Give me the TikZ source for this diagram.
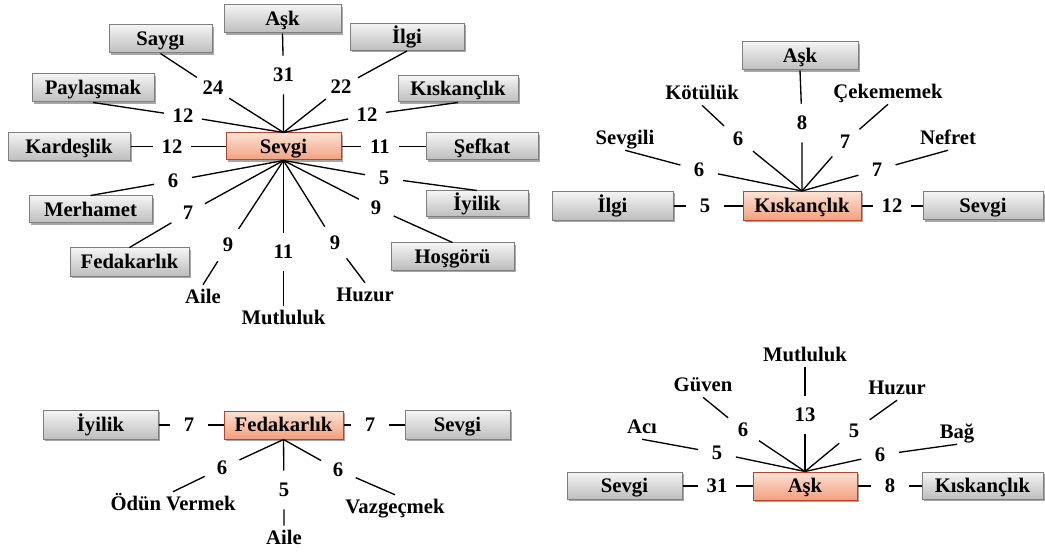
\documentclass[tikz,border=0pt]{standalone}
\usepackage{fontspec}
\setmainfont{Liberation Serif}
\usetikzlibrary{shadows}
\definecolor{gborder}{HTML}{7F7F7F}
\definecolor{gtop}{HTML}{F4F4F4}
\definecolor{gbot}{HTML}{BDBDBD}
\definecolor{sborder}{HTML}{B5452A}
\definecolor{salmontop}{HTML}{FCE2D4}
\definecolor{salmonbot}{HTML}{F2A07E}
\begin{document}
\begin{tikzpicture}[x=0.75pt,y=-0.75pt,
  font=\fontsize{15.5}{18}\selectfont\bfseries,
  shade/.style={drop shadow={shadow xshift=1.2pt, shadow yshift=-1.2pt, opacity=0.35, fill=black}},
  gbox/.style={draw=gborder, line width=0.75pt, top color=gtop, bottom color=gbot, inner sep=0pt, text height=10.5pt, text depth=0.5pt, shade},
  sbox/.style={draw=sborder, line width=0.75pt, top color=salmontop, bottom color=salmonbot, inner sep=0pt, text height=10.5pt, text depth=0.5pt, shade},
  sz/.style 2 args={minimum width={#1*0.75pt}, minimum height={#2*0.75pt}},
  num/.style={circle, minimum size=28.5pt, inner sep=0pt},
  lab/.style={inner sep=4pt, text height=10pt, text depth=0pt},
  conn/.style={line width=1pt, draw=black}]
\fill[white] (0,0) rectangle (1045,552);
\useasboundingbox (0,0) rectangle (1045,552);

% ---------------- Top-left cluster: Sevgi ----------------
\node[sbox, sz={115}{27}] (s1) at (283.5,146.5) {Sevgi};
\node[gbox, sz={117}{28}] (ask1) at (282.5,19) {Aşk};
\node[gbox, sz={103}{28}] (saygi) at (160.5,39) {Saygı};
\node[gbox, sz={114}{27}] (ilgi1) at (407,37) {İlgi};
\node[gbox, sz={122}{28}] (payl) at (93,88) {Paylaşmak};
\node[gbox, sz={120}{26}] (kisk1) at (458,89) {Kıskançlık};
\node[gbox, sz={122}{28}] (kard) at (69,146.5) {Kardeşlik};
\node[gbox, sz={112}{27}] (sefkat) at (482,146.5) {Şefkat};
\node[gbox, sz={123}{27}] (merh) at (90.5,209.5) {Merhamet};
\node[gbox, sz={102}{26}] (iyi1) at (477,204) {İyilik};
\node[gbox, sz={119}{28}] (fed1) at (129.5,262) {Fedakarlık};
\node[gbox, sz={123}{27}] (hos) at (452.5,256.5) {Hoşgörü};
\node[lab] (aile1) at (203,297) {Aile};
\node[lab] (mut1) at (283.5,318) {Mutluluk};
\node[lab] (huz1) at (365,295) {Huzur};

\node[num] (t31) at (283.5,75) {31};
\node[num] (t24) at (213,88) {24};
\node[num] (t22) at (341,87) {22};
\node[num] (t12p) at (183,116) {12};
\node[num] (t12k) at (367,115) {12};
\node[num] (t12d) at (172,146.5) {12};
\node[num] (t11s) at (380,146.5) {11};
\node[num] (t6m) at (173,181) {6};
\node[num] (t5i) at (384,178) {5};
\node[num] (t7f) at (188,213) {7};
\node[num] (t9h) at (376,208) {9};
\node[num] (t9a) at (228,245) {9};
\node[num] (t11m) at (283.5,252) {11};
\node[num] (t9z) at (335,243) {9};

\draw[conn] (ask1.south) -- (t31) -- (s1.north);
\draw[conn] (saygi.south) -- (t24) -- (s1.north);
\draw[conn] (ilgi1.south) -- (t22) -- (s1.north);
\draw[conn] (payl.south) -- (t12p) -- (s1.north);
\draw[conn] (kisk1.south) -- (t12k) -- (s1.north);
\draw[conn] (kard.east) -- (t12d) -- (s1.west);
\draw[conn] (s1.east) -- (t11s) -- (sefkat.west);
\draw[conn] (s1.south) -- (t6m) -- (merh.north);
\draw[conn] (s1.south) -- (t7f) -- (fed1.north);
\draw[conn] (s1.south) -- (t9a) -- (aile1.north);
\draw[conn] (s1.south) -- (t11m) -- (mut1.north);
\draw[conn] (s1.south) -- (t9z) -- (huz1.north);
\draw[conn] (s1.south) -- (t9h) -- (hos.north);
\draw[conn] (s1.south) -- (t5i) -- (iyi1.north);

% ---------------- Top-right cluster: Kıskançlık ----------------
\node[sbox, sz={118}{29}] (k2) at (802,206) {Kıskançlık};
\node[gbox, sz={116}{28}] (ask2) at (800,56) {Aşk};
\node[gbox, sz={121}{29}] (ilgi2) at (612.5,206) {İlgi};
\node[gbox, sz={120}{28}] (sev2) at (983,206) {Sevgi};
\node[lab] (sevgili) at (625,138) {Sevgili};
\node[lab] (kotu) at (702,93) {Kötülük};
\node[lab] (cekem) at (888,92) {Çekememek};
\node[lab] (nefret) at (948,138) {Nefret};

\node[num] (r8) at (802,123) {8};
\node[num] (r6s) at (699,170) {6};
\node[num] (r6k) at (738,139) {6};
\node[num] (r7c) at (845,142) {7};
\node[num] (r7n) at (877,170) {7};
\node[num] (r5) at (705,206) {5};
\node[num] (r12) at (892,206) {12};

\draw[conn] (ask2.south) -- (r8) -- (k2.north);
\draw[conn] (sevgili.south) -- (r6s) -- (k2.north);
\draw[conn] (kotu.south) -- (r6k) -- (k2.north);
\draw[conn] (cekem.south) -- (r7c) -- (k2.north);
\draw[conn] (nefret.south) -- (r7n) -- (k2.north);
\draw[conn] (ilgi2.east) -- (r5) -- (k2.west);
\draw[conn] (k2.east) -- (r12) -- (sev2.west);

% ---------------- Bottom-left cluster: Fedakarlık ----------------
\node[sbox, sz={119}{28}] (fed2) at (283.5,425) {Fedakarlık};
\node[gbox, sz={115}{29}] (iyi2) at (100.5,425) {İyilik};
\node[gbox, sz={105}{29}] (sev3) at (457.5,425) {Sevgi};
\node[lab] (odun) at (173,504) {Ödün Vermek};
\node[lab] (aile2) at (284,538) {Aile};
\node[lab] (vaz) at (395,507) {Vazgeçmek};

\node[num] (b7l) at (189,425) {7};
\node[num] (b7r) at (370,425) {7};
\node[num] (b6o) at (222,468) {6};
\node[num] (b5) at (284,490) {5};
\node[num] (b6v) at (338,470) {6};

\draw[conn] (iyi2.east) -- (b7l) -- (fed2.west);
\draw[conn] (fed2.east) -- (b7r) -- (sev3.west);
\draw[conn] (fed2.south) -- (b6o) -- (odun.north);
\draw[conn] (fed2.south) -- (b5) -- (aile2.north);
\draw[conn] (fed2.south) -- (b6v) -- (vaz.north);

% ---------------- Bottom-right cluster: Aşk ----------------
\node[sbox, sz={104}{28}] (ask3) at (805,486) {Aşk};
\node[gbox, sz={115}{27}] (sev4) at (624.5,486) {Sevgi};
\node[gbox, sz={121}{27}] (kisk3) at (982.5,486) {Kıskançlık};
\node[lab] (aci) at (642,427) {Acı};
\node[lab] (guven) at (703,385) {Güven};
\node[lab] (mut2) at (805,355) {Mutluluk};
\node[lab] (huz2) at (897,388) {Huzur};
\node[lab] (bag) at (957,432) {Bağ};

\node[num] (c31) at (717,486) {31};
\node[num] (c8) at (890,486) {8};
\node[num] (c5a) at (717,453) {5};
\node[num] (c6g) at (743,430) {6};
\node[num] (c13) at (805,415) {13};
\node[num] (c5h) at (854,431) {5};
\node[num] (c6b) at (880,455) {6};

\draw[conn] (sev4.east) -- (c31) -- (ask3.west);
\draw[conn] (ask3.east) -- (c8) -- (kisk3.west);
\draw[conn] (aci.south) -- (c5a) -- (ask3.north);
\draw[conn] (guven.south) -- (c6g) -- (ask3.north);
\draw[conn] (mut2.south) -- (c13) -- (ask3.north);
\draw[conn] (huz2.south) -- (c5h) -- (ask3.north);
\draw[conn] (bag.south) -- (c6b) -- (ask3.north);
\end{tikzpicture}
\end{document}
